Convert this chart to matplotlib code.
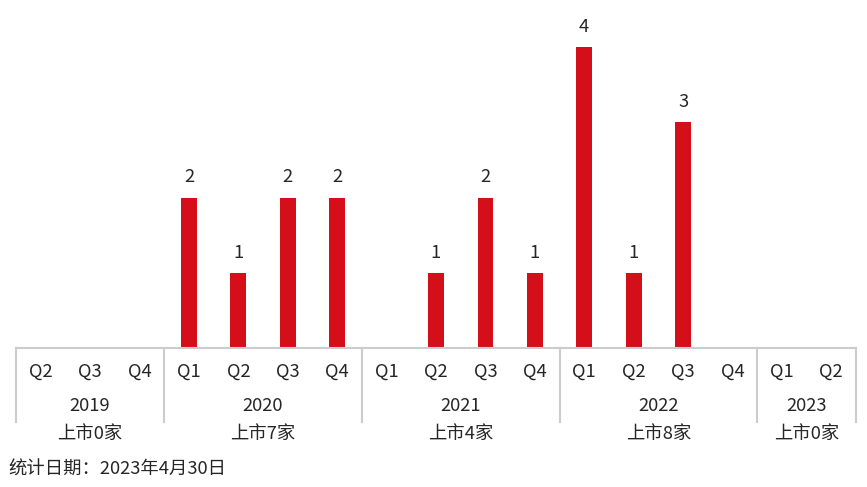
import matplotlib
matplotlib.use('Agg')
from matplotlib import pyplot as plt
from matplotlib.transforms import blended_transform_factory

plt.rcParams['font.family'] = ['Noto Sans CJK SC', 'DejaVu Sans']
plt.rcParams['font.weight'] = 'light'

# dados
quarters = ['Q2', 'Q3', 'Q4',
            'Q1', 'Q2', 'Q3', 'Q4',
            'Q1', 'Q2', 'Q3', 'Q4',
            'Q1', 'Q2', 'Q3', 'Q4',
            'Q1', 'Q2']
counts = [0, 0, 0,
          2, 1, 2, 2,
          0, 1, 2, 1,
          4, 1, 3, 0,
          0, 0]
years = ['2019', '2020', '2021', '2022', '2023']
year_sizes = [3, 4, 4, 4, 2]
year_totals = ['上市0家', '上市7家', '上市4家', '上市8家', '上市0家']
footer = '统计日期：2023年4月30日'

red = '#D50F1A'
grey = '#CCCCCC'
txt = '#262626'
fs = 13.2

fig = plt.figure(figsize=(8.67, 4.87), dpi=100)
ax = fig.add_axes([16 / 867, 139 / 487, 840 / 867, 348 / 487])

x = list(range(len(counts)))
ax.bar(x, counts, width=0.32, color=red)
for xi, v in zip(x, counts):
    if v > 0:
        ax.annotate(str(v), (xi, v), xytext=(0, 8), textcoords='offset points',
                    ha='center', va='bottom', fontsize=fs, color=txt)

ax.set_xlim(-0.5, len(counts) - 0.5)
ax.set_ylim(0, 348 / 75.25)
ax.axis('off')

tr = blended_transform_factory(ax.transData, fig.transFigure)
y_axis = 139 / 487
y_low = (487 - 422) / 487

# linha base
ax.plot([-0.5, len(counts) - 0.5], [y_axis, y_axis], transform=tr,
        color=grey, lw=1.5, clip_on=False)

# rótulos trimestre
for xi, q in zip(x, quarters):
    ax.text(xi, (487 - 372) / 487, q, transform=tr, ha='center', va='center',
            fontsize=fs, color=txt)

# grupos por ano
start = -0.5
for yr, n, tot in zip(years, year_sizes, year_totals):
    end = start + n
    mid = (start + end) / 2
    ax.plot([start, start], [y_axis, y_low], transform=tr, color=grey,
            lw=1.5, clip_on=False)
    ax.text(mid, (487 - 406) / 487, yr, transform=tr, ha='center',
            va='center', fontsize=fs, color=txt)
    ax.text(mid, (487 - 434) / 487, tot, transform=tr, ha='center',
            va='center', fontsize=fs, color=txt)
    start = end
ax.plot([start, start], [y_axis, y_low], transform=tr, color=grey,
        lw=1.5, clip_on=False)

fig.text(8 / 867, (487 - 470) / 487, footer, ha='left', va='center',
         fontsize=fs, color=txt)

fig.savefig('out.png', dpi=100)
